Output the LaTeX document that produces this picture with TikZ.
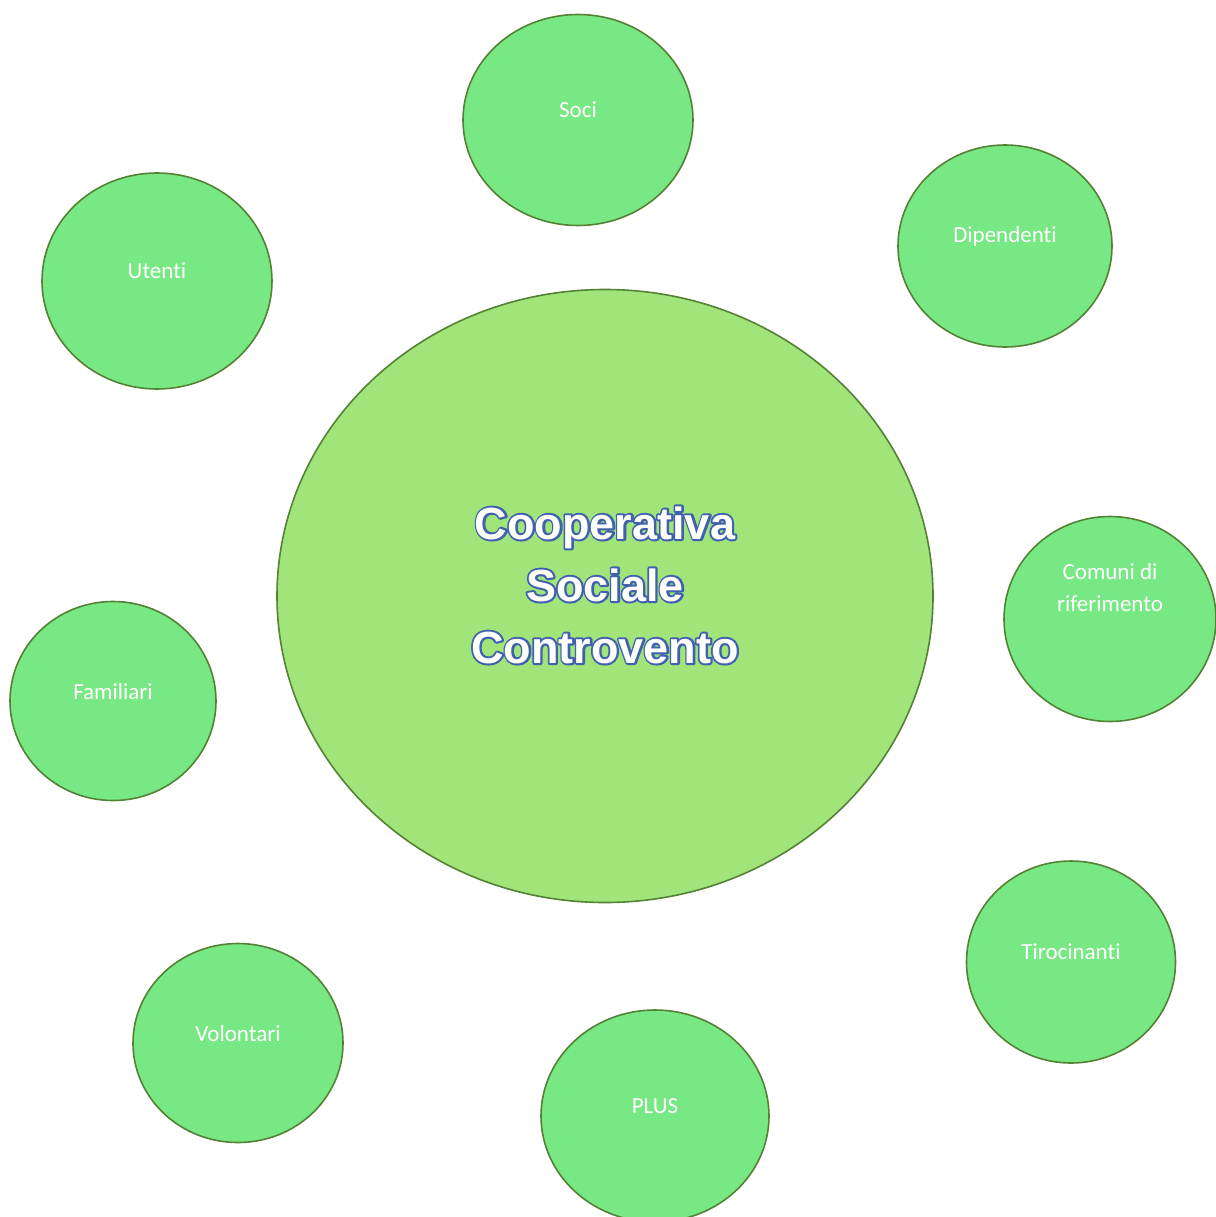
\documentclass[tikz,border=0pt]{standalone}
\usepackage{fontspec}
\setmainfont{Carlito}[Ligatures=NoCommon]
\newfontfamily\titlefont{Liberation Sans}
\usetikzlibrary{shapes.geometric}
\definecolor{bigfill}{RGB}{161,229,122}
\definecolor{smallfill}{RGB}{120,232,132}
\definecolor{edgegreen}{RGB}{84,130,53}
\newcommand{\outlinedtext}[1]{\rlap{\special{pdf:literal direct 2 Tr 4 w 1 j 0.25 0.38 0.68 RG}#1\special{pdf:literal direct 0 Tr}}#1}
\tikzset{
  bubble/.style={ellipse, draw=edgegreen, line width=1.6pt, fill=smallfill, inner sep=0pt},
  bigbubble/.style={bubble, fill=bigfill},
  lbl/.style={text=white, font=\fontsize{23}{32}\selectfont, align=center, inner sep=0pt},
  ttl/.style={text=white, font=\titlefont\bfseries\fontsize{45}{62}\selectfont, align=center, inner sep=0pt}
}
\begin{document}
\begin{tikzpicture}[x=1pt,y=-1pt]
\useasboundingbox (0,0) rectangle (1215,1217);
\fill[white] (0,0) rectangle (1215,1217);
% central
\node[bigbubble, minimum width=656pt, minimum height=613pt] (coop) at (605,596) {};
\node[ttl] (coopt) at ([yshift=11pt]coop.center) {\outlinedtext{Cooperativa}\\\outlinedtext{Sociale}\\\outlinedtext{Controvento}};
% satellites
\node[bubble, minimum width=230pt, minimum height=211pt] (soci) at (578,120) {};
\node[lbl] (socit) at ([yshift=10pt]soci.center) {Soci};
\node[bubble, minimum width=214pt, minimum height=202pt] (dip) at (1005,246) {};
\node[lbl] (dipt) at ([yshift=10pt]dip.center) {Dipendenti};
\node[bubble, minimum width=230pt, minimum height=216pt] (ute) at (157,281) {};
\node[lbl] (utet) at ([yshift=10pt]ute.center) {Utenti};
\node[bubble, minimum width=212pt, minimum height=205pt] (com) at (1110,619) {};
\node[lbl] (comt) at ([yshift=31pt]com.center) {Comuni di\\riferimento};
\node[bubble, minimum width=206pt, minimum height=199pt] (fam) at (113,701) {};
\node[lbl] (famt) at ([yshift=9pt]fam.center) {Familiari};
\node[bubble, minimum width=209pt, minimum height=202pt] (tir) at (1071,962) {};
\node[lbl] (tirt) at ([yshift=10pt]tir.center) {Tirocinanti};
\node[bubble, minimum width=210pt, minimum height=199pt] (vol) at (238,1043) {};
\node[lbl] (volt) at ([yshift=9pt]vol.center) {Volontari};
\node[bubble, minimum width=228pt, minimum height=212pt] (plus) at (655,1116) {};
\node[lbl] (plust) at ([yshift=10pt]plus.center) {PLUS};
\end{tikzpicture}
\end{document}
